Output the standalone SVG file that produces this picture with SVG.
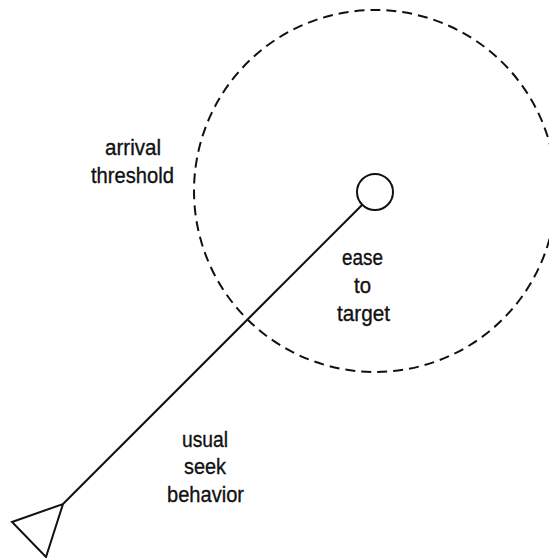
<svg xmlns="http://www.w3.org/2000/svg" width="549" height="558" viewBox="0 0 549 558">
<style>
.lbl{font-family:"Liberation Sans",Arial,sans-serif;font-size:22.5px;fill:#111;stroke:#111;stroke-width:0.35;text-anchor:middle}
.ln{stroke:#111;stroke-width:2;fill:none}
</style>
<rect width="549" height="558" fill="#fff"/>
<g id="threshold-circle"><circle cx="375" cy="191" r="181" class="ln" stroke-dasharray="10 6"/></g>
<g id="connectors"><line x1="362.3" y1="204.7" x2="63" y2="504" class="ln"/></g>
<g id="target"><circle cx="375" cy="192" r="18" class="ln" fill="#fff"/></g>
<g id="seeker"><polygon points="12,522 63,504 46,557" class="ln" fill="#fff" stroke-linejoin="miter"/></g>
<g id="label-arrival"><text class="lbl" x="133" y="155" textLength="56" lengthAdjust="spacingAndGlyphs">arrival</text><text class="lbl" x="132.5" y="183" textLength="83" lengthAdjust="spacingAndGlyphs">threshold</text></g>
<g id="label-ease"><text class="lbl" x="362.5" y="265" textLength="41" lengthAdjust="spacingAndGlyphs">ease</text><text class="lbl" x="362.5" y="293" textLength="17" lengthAdjust="spacingAndGlyphs">to</text><text class="lbl" x="363.5" y="321" textLength="53" lengthAdjust="spacingAndGlyphs">target</text></g>
<g id="label-seek"><text class="lbl" x="205" y="447" textLength="46" lengthAdjust="spacingAndGlyphs">usual</text><text class="lbl" x="205" y="474" textLength="42" lengthAdjust="spacingAndGlyphs">seek</text><text class="lbl" x="205.5" y="502" textLength="77" lengthAdjust="spacingAndGlyphs">behavior</text></g>
</svg>
